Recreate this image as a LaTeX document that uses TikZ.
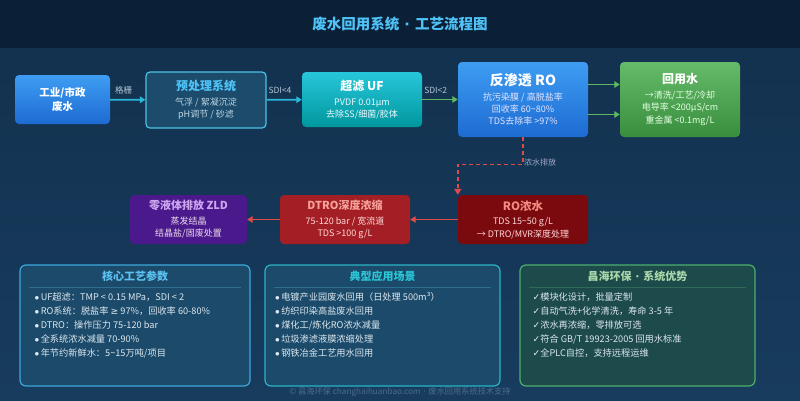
\documentclass[tikz,border=0pt]{standalone}
\usepackage{fontspec}
\setmainfont{Noto Sans CJK SC}
\newfontfamily\symfont{DejaVu Sans}
\usepackage{tikz}
\usetikzlibrary{arrows.meta, positioning, calc}
\usepackage{xcolor}
\definecolor{cBarBg}{HTML}{0B1F36}
\definecolor{cBgTop}{HTML}{12304D}
\definecolor{cBgBot}{HTML}{183C5E}
\definecolor{cTitle}{HTML}{4FC3F7}
\definecolor{cBlueTop}{HTML}{3E9DF2}
\definecolor{cBlueBot}{HTML}{1D6BD2}
\definecolor{cPreFill}{HTML}{1C4B6B}
\definecolor{cPreLine}{HTML}{4CC2E2}
\definecolor{cPreTxt}{HTML}{BFD6E4}
\definecolor{cTealTop}{HTML}{27C6DA}
\definecolor{cTealBot}{HTML}{00979D}
\definecolor{cGreenTop}{HTML}{66BB6A}
\definecolor{cGreenBot}{HTML}{388E3C}
\definecolor{cCyanArr}{HTML}{2AB8DA}
\definecolor{cGreenArr}{HTML}{5DB862}
\definecolor{cRedArr}{HTML}{E04A4A}
\definecolor{cRocFill}{HTML}{7B0A0F}
\definecolor{cDtroFill}{HTML}{A41F25}
\definecolor{cZldFill}{HTML}{4A1A8C}
\definecolor{cSalmon}{HTML}{F28B80}
\definecolor{cLilac}{HTML}{CDA6F0}
\definecolor{cLbl}{HTML}{B4C6D4}
\definecolor{cLblPurple}{HTML}{A6AACB}
\definecolor{cPanel}{HTML}{1C4A6A}
\definecolor{cPanelG}{HTML}{1D4A4B}
\definecolor{cP1Line}{HTML}{3CA8DC}
\definecolor{cP1Title}{HTML}{5CC2F0}
\definecolor{cP2Line}{HTML}{27B4C6}
\definecolor{cP2Title}{HTML}{2BC6D6}
\definecolor{cP3Line}{HTML}{4DAE6C}
\definecolor{cP3Title}{HTML}{A8D8A9}
\definecolor{cSepBlue}{HTML}{2E6E8E}
\definecolor{cSepGreen}{HTML}{2F6A56}
\definecolor{cItem}{HTML}{DCE8F0}
\definecolor{cFoot}{HTML}{4B6C8C}
\newcommand{\boxtitle}[2][12]{{\bfseries\fontsize{#1}{14}\selectfont #2}}
\newcommand{\itm}{$\bullet$\,}
\newcommand{\chk}{{\symfont ✓}}
\newcommand{\tl}{\textasciitilde}
\newcommand{\mdot}{{\symfont\ ·\ }}
\newcommand{\geqs}{{\symfont ≥}}
\tikzset{
  basebox/.style={rectangle, rounded corners=4pt, align=center, inner sep=2pt,
                  font=\fontsize{9}{12.3}\selectfont},
  srcnode/.style={basebox, top color=cBlueTop, bottom color=cBlueBot, text=white,
                  minimum width=95pt, minimum height=49pt,
                  font=\bfseries\fontsize{10.5}{14}\selectfont},
  prenode/.style={basebox, fill=cPreFill, draw=cPreLine, line width=1.2pt,
                  text=cPreTxt, minimum width=120pt, minimum height=56pt},
  ufnode/.style={basebox, top color=cTealTop, bottom color=cTealBot,
                 text=white!92!cyan, minimum width=120pt, minimum height=55pt},
  ronode/.style={basebox, top color=cBlueTop, bottom color=cBlueBot,
                 text=white!90!blue, minimum width=130pt, minimum height=75pt},
  reusenode/.style={basebox, top color=cGreenTop, bottom color=cGreenBot,
                    text=white!90!green, minimum width=120pt, minimum height=75pt},
  rocnode/.style={basebox, fill=cRocFill, text=white!85!red,
                  minimum width=130pt, minimum height=49pt},
  dtronode/.style={basebox, fill=cDtroFill, text=white!85!red,
                   minimum width=130pt, minimum height=49pt},
  zldnode/.style={basebox, fill=cZldFill, text=white!85!violet,
                  minimum width=117pt, minimum height=49pt},
  panelbox/.style={rectangle, rounded corners=6pt, line width=1.2pt,
                   minimum height=121pt},
  ptitle/.style={font=\bfseries\fontsize{11}{13}\selectfont, inner sep=2pt},
  plist/.style={align=left, text=cItem, inner sep=2pt,
                font=\fontsize{9.2}{14}\selectfont},
  lbl/.style={font=\fontsize{8.5}{10}\selectfont, text=cLbl, inner sep=2pt},
  cyanarrow/.style={-{Triangle[width=6.5pt,length=5.5pt]}, line width=1.8pt, color=cCyanArr},
  greenarrow/.style={-{Triangle[width=6.5pt,length=5.5pt]}, line width=1.8pt, color=cGreenArr},
  redarrow/.style={-{Triangle[width=6.5pt,length=5.5pt]}, line width=1.5pt, color=cRedArr},
  dasharrow/.style={-{Triangle[width=7pt,length=6pt]}, line width=1.5pt, color=cRedArr,
                    dash pattern=on 4pt off 3pt}
}

\begin{document}
\begin{tikzpicture}[x=1pt, y=-1pt]
  \useasboundingbox (0,0) rectangle (800,400);
  \shade[top color=cBgTop, bottom color=cBgBot] (0,0) rectangle (800,400);
  \fill[cBarBg] (0,0) rectangle (800,48);
  \node[text=cTitle, font=\bfseries\fontsize{14.5}{16}\selectfont] (title) at (400,24)
      {废水回用系统\mdot 工艺流程图};

  % main line
  \node[srcnode] (src) at (62.5,99.5) {工业/市政\\废水};
  \node[prenode] (pre) at (206,100)
      {\boxtitle{\color{cTitle}预处理系统}\\[2.5pt] 气浮 / 絮凝沉淀\\ pH调节 / 砂滤};
  \node[ufnode] (uf) at (362,99.5)
      {\boxtitle{\color{white}超滤 UF}\\[2.5pt] PVDF 0.01μm\\ 去除SS/细菌/胶体};
  \node[ronode] (ro) at (523,99.5)
      {\boxtitle[14]{\color{white}反渗透 RO}\\[2.5pt] 抗污染膜 / 高脱盐率\\ 回收率 60\tl80\%\\ TDS去除率 >97\%};
  \node[reusenode] (reuse) at (680,99.5)
      {\boxtitle{\color{white}回用水}\\[2.5pt] →清洗/工艺/冷却\\ 电导率 <200μS/cm\\ 重金属 <0.1mg/L};

  \foreach \from/\to/\txt/\sty in {src/pre/格栅/cyanarrow, pre/uf/SDI<4/cyanarrow, uf/ro/SDI<2/greenarrow}
    \draw[\sty] (\from) -- node[lbl, pos=0.38, above=3pt] {\txt} (\to);
  \draw[greenarrow] ([yshift=15pt]ro.east) -- ([yshift=15pt]reuse.west);
  \draw[greenarrow] ([yshift=-15pt]ro.east) -- ([yshift=-15pt]reuse.west);

  % concentrate line
  \node[rocnode] (roc) at (523,219.5)
      {\boxtitle[11.5]{\color{cSalmon}RO浓水}\\[2.5pt] TDS 15\tl50 g/L\\ → DTRO/MVR深度处理};
  \node[dtronode] (dtro) at (345,219.5)
      {\boxtitle[11]{\color{cSalmon!80!white}DTRO深度浓缩}\\[2.5pt] 75-120 bar / 宽流道\\ TDS >100 g/L};
  \node[zldnode] (zld) at (188.5,219.5)
      {\boxtitle[11]{\color{cLilac}零液体排放 ZLD}\\[2.5pt] 蒸发结晶\\ 结晶盐/固废处置};

  \coordinate (bend) at (523,164.5);
  \draw[dasharrow] (ro.south) -- (bend) -| (roc.north west);
  \node[lbl, text=cLblPurple, anchor=west, inner sep=1pt, font=\fontsize{8}{9}\selectfont] (drain)
      at ([yshift=2pt]bend) {浓水排放};
  \draw[redarrow] (roc) -- (dtro);
  \draw[redarrow] (dtro) -- (zld);

  % info panels
  \node[panelbox, fill=cPanel, draw=cP1Line, minimum width=230pt] (p1) at (135,325.5) {};
  \node[panelbox, fill=cPanel, draw=cP2Line, minimum width=235pt] (p2) at (382.5,325.5) {};
  \node[panelbox, fill=cPanelG, draw=cP3Line, minimum width=235pt] (p3) at (637.5,325.5) {};

  \node[ptitle, text=cP1Title, below=4pt of p1.north] (p1t) {核心工艺参数};
  \node[ptitle, text=cP2Title, below=4pt of p2.north] (p2t) {典型应用场景};
  \node[ptitle, text=cP3Title, below=4pt of p3.north] (p3t) {昌海环保\mdot 系统优势};

  \draw[cSepBlue, line width=1.2pt] ([xshift=10pt,yshift=-23pt]p1.north west) -- ([xshift=-10pt,yshift=-23pt]p1.north east);
  \draw[cSepBlue, line width=1.2pt] ([xshift=10pt,yshift=-23pt]p2.north west) -- ([xshift=-10pt,yshift=-23pt]p2.north east);
  \draw[cSepGreen, line width=1.2pt] ([xshift=10pt,yshift=-23pt]p3.north west) -- ([xshift=-10pt,yshift=-23pt]p3.north east);

  \node[plist, below right=26pt and 13pt of p1.north west] (p1l)
      {\itm UF超滤：TMP < 0.15 MPa，SDI < 2\\
       \itm RO系统：脱盐率 \geqs\ 97\%，回收率 60-80\%\\
       \itm DTRO：操作压力 75-120 bar\\
       \itm 全系统浓水减量 70-90\%\\
       \itm 年节约新鲜水：5\tl15万吨/项目};
  \node[plist, below right=26pt and 8.5pt of p2.north west] (p2l)
      {\itm 电镀产业园废水回用（日处理 500m³）\\
       \itm 纺织印染高盐废水回用\\
       \itm 煤化工/炼化RO浓水减量\\
       \itm 垃圾渗滤液膜浓缩处理\\
       \itm 钢铁冶金工艺用水回用};
  \node[plist, below right=26pt and 11pt of p3.north west] (p3l)
      {\chk 模块化设计，批量定制\\
       \chk 自动气洗+化学清洗，寿命 3-5 年\\
       \chk 浓水再浓缩，零排放可选\\
       \chk 符合 GB/T 19923-2005 回用水标准\\
       \chk 全PLC自控，支持远程运维};

  \node[text=cFoot, font=\fontsize{8.2}{9}\selectfont] (foot) at (400,392)
      {© 昌海环保 changhaihuanbao.com\mdot 废水回用系统技术支持};
\end{tikzpicture}
\end{document}
